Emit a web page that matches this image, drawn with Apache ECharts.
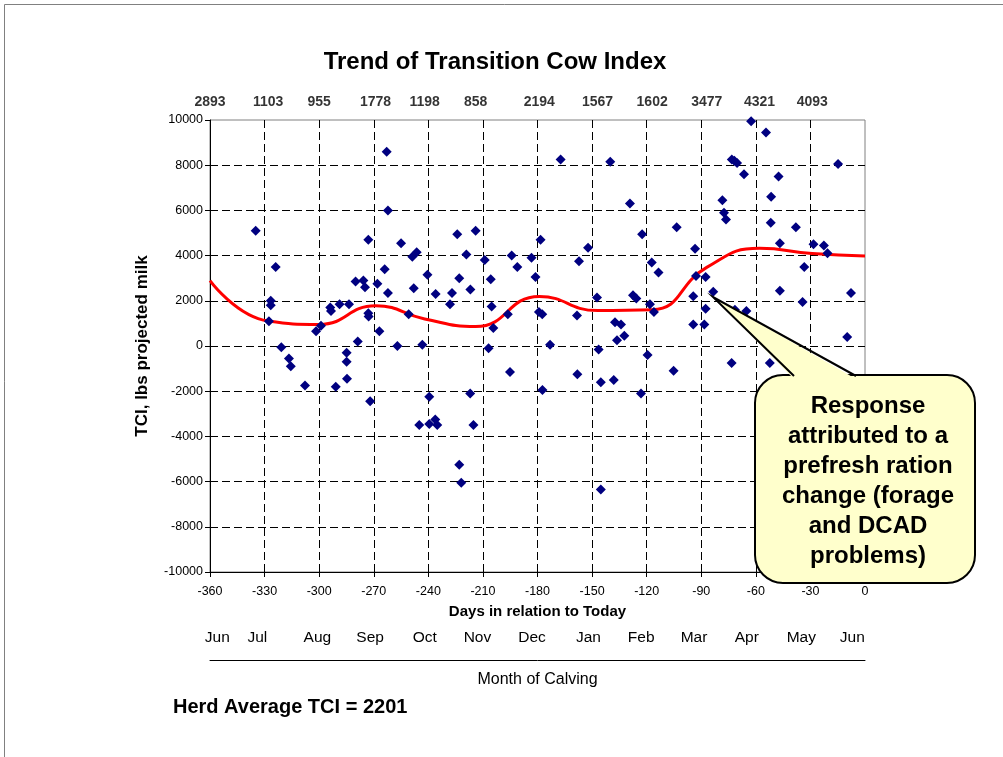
<!DOCTYPE html>
<html><head><meta charset="utf-8">
<script src="https://cdn.jsdelivr.net/npm/echarts@6/dist/echarts.min.js"></script>
<style>html,body{margin:0;padding:0;background:#fff}#c{width:1003px;height:757px}</style>
</head><body><div id="c"></div>
<script>
// Individual cows: days in relation to today, TCI (lbs projected milk)
const pointDays = [-334.9,-327.6,-326.6,-326.6,-323.9,-320.8,-316.6,-315.6,-307.8,-301.7,-299,-293.9,-293.5,-290.9,-288.8,-284.9,-284.9,-284.7,-283.6,-280,-278.8,-275.7,-274.8,-273,-273,-272.8,-272,-268,-266.9,-264,-262.9,-262.2,-262.2,-257,-255,-250.8,-248.8,-248,-246.4,-245,-243.3,-240.5,-239.5,-239.5,-236.2,-236,-235.1,-228.1,-227,-224.1,-223,-223,-221.9,-219.1,-217,-216.9,-215.2,-214,-209,-206.9,-205.7,-205.2,-204.3,-196.3,-195.1,-194.2,-191.1,-183.3,-181.1,-179.2,-178.3,-177.4,-177.3,-173.1,-167.3,-158.3,-158.1,-157.2,-152.2,-147.3,-146.4,-145.2,-145.2,-140,-138.1,-137.4,-136.3,-134.1,-132.3,-129.2,-127.5,-125.7,-123.1,-122.5,-119.5,-118.2,-117.2,-116,-113.5,-105.2,-103.5,-94.4,-94.4,-93.4,-92.9,-88.3,-87.6,-87.6,-83.4,-78.4,-77.5,-76.4,-73.3,-73.2,-71.8,-71.5,-70.3,-66.5,-65.2,-62.6,-54.4,-52.3,-51.8,-51.6,-47.5,-46.8,-46.8,-38,-34.3,-33.4,-28.3,-22.6,-20.6,-14.8,-9.8,-7.7];
const pointValues = [5100,1100,2000,1800,3500,-50,-550,-900,-1750,650,900,1700,1550,-1800,1850,-300,-700,-1450,1850,2850,200,2900,2600,4700,1450,1300,-2450,2750,650,3400,8600,6000,2350,0,4550,1400,3950,2550,4150,-3500,50,3150,-2250,-3450,-3250,2300,-3500,1850,2350,4950,3000,-5250,-6050,4050,-2100,2500,-3500,5100,3800,-100,2950,1750,800,1400,-1150,4000,3500,3900,3050,1500,4700,1400,-1950,50,8250,1350,-1250,3750,4350,2150,-150,-1600,-6350,8150,-1500,1050,250,950,450,6300,2250,2100,-2100,4950,-400,1850,3700,1500,3250,-1100,5250,2200,950,4300,3100,950,3050,1650,2400,6450,5900,5600,-750,8250,8200,1600,8100,7600,1550,9950,9450,-750,5450,6600,7500,4550,2450,5250,1950,3500,4500,4450,4100,8050,400,2350];
// Monthly averages (trend line) and their positions
const monthDays = [-360,-328,-300,-269,-242,-214,-179,-147,-117,-87,-58,-29];
const monthAvg = [2893,1103,955,1778,1198,858,2194,1567,1602,3477,4321,4093];
const trendEndDay = 0;
const trendEndValue = 3980;
// Month of calving labels
const monthLabelDays = [-356,-334,-301,-272,-242,-213,-183,-152,-123,-94,-65,-35,-7];
const monthNames = ['Jun','Jul','Aug','Sep','Oct','Nov','Dec','Jan','Feb','Mar','Apr','May','Jun'];
const herdAverage = 2201;
const calloutLines = ['Response','attributed to a','prefresh ration','change (forage','and DCAD','problems)'];

const FONT = '"Liberation Sans", Arial, sans-serif';
const chart = echarts.init(document.getElementById('c'), null, {renderer: 'canvas'});

const trendData = monthDays.map((d, i) => [d, monthAvg[i]]).concat([[trendEndDay, trendEndValue]]);
const gridDash = {color: '#000', type: [8, 4], width: 1};

chart.setOption({
  animation: false,
  backgroundColor: '#fff',
  textStyle: {fontFamily: FONT},
  title: {
    text: 'Trend of Transition Cow Index',
    left: 490, top: 45, textAlign: 'center',
    textStyle: {fontSize: 24, fontWeight: 'bold', color: '#000', fontFamily: FONT}
  },
  grid: {left: 210, right: 138, top: 120, bottom: 185, show: true, borderColor: '#808080', borderWidth: 1, containLabel: false},
  xAxis: [{
    type: 'value', min: -360, max: 0, interval: 30, position: 'bottom',
    name: 'Days in relation to Today', nameLocation: 'middle', nameGap: 32,
    nameTextStyle: {fontSize: 15, fontWeight: 'bold', color: '#000', fontFamily: FONT},
    axisLine: {show: true, onZero: false, lineStyle: {color: '#000', width: 1}},
    axisTick: {show: true, length: 5, lineStyle: {color: '#000'}},
    axisLabel: {fontSize: 12.5, color: '#000', margin: 13, fontFamily: FONT, formatter: v => String(v)},
    splitLine: {show: true, showMinLine: false, showMaxLine: false, lineStyle: gridDash}
  }, {
    type: 'value', min: -360, max: 0, position: 'bottom', offset: 88,
    name: 'Month of Calving', nameLocation: 'middle', nameGap: 12,
    nameTextStyle: {fontSize: 16, color: '#000', fontFamily: FONT},
    axisLine: {show: true, onZero: false, lineStyle: {color: '#000', width: 1}},
    axisTick: {show: false},
    splitLine: {show: false},
    axisLabel: {
      inside: true, margin: 14, fontSize: 15.5, color: '#000', fontFamily: FONT,
      customValues: monthLabelDays,
      formatter: v => { const i = monthLabelDays.indexOf(v); return i >= 0 ? monthNames[i] : ''; }
    }
  }],
  yAxis: {
    type: 'value', min: -10000, max: 10000, interval: 2000,
    name: 'TCI, lbs projected milk', nameLocation: 'middle', nameGap: 59,
    nameTextStyle: {fontSize: 17, fontWeight: 'bold', color: '#000', fontFamily: FONT},
    axisLine: {show: true, onZero: false, lineStyle: {color: '#000', width: 1}},
    axisTick: {show: true, length: 5, lineStyle: {color: '#000'}},
    axisLabel: {fontSize: 12.5, color: '#000', margin: 7, fontFamily: FONT, formatter: v => String(v)},
    splitLine: {show: true, showMinLine: false, showMaxLine: false, lineStyle: gridDash}
  },
  series: [{
    name: 'Trend', type: 'line', data: trendData, smooth: 0.5,
    showSymbol: false, symbol: 'none', z: 2,
    lineStyle: {color: '#ff0000', width: 3}
  }, {
    name: 'TCI', type: 'scatter', z: 3,
    data: pointDays.map((d, i) => [d, pointValues[i]]),
    symbol: 'diamond', symbolSize: 10,
    itemStyle: {color: '#000080', opacity: 1}
  }, {
    name: 'Monthly average', type: 'scatter', z: 3, silent: true,
    data: monthDays.map(d => [d, 10000]),
    symbolSize: 1, itemStyle: {color: 'rgba(0,0,0,0)'},
    label: {
      show: true, position: 'top', distance: 10,
      formatter: p => String(monthAvg[p.dataIndex]),
      fontSize: 14, fontWeight: 'bold', color: '#000', fontFamily: FONT
    }
  }],
  graphic: [
    {type: 'rect', silent: true, z: 0, shape: {x: 4.5, y: 4.5, width: 1200, height: 1000},
     style: {fill: 'none', stroke: '#808080', lineWidth: 1}},
    {type: 'text', silent: true, left: 173, top: 697,
     style: {text: 'Herd Average TCI = ' + herdAverage, font: 'bold 20px ' + FONT, fill: '#000'}},
    {type: 'group', silent: true, z: 100, children: [
      {type: 'rect', z: 100, shape: {x: 755, y: 375, width: 220, height: 208, r: 28},
       style: {fill: '#ffffcc', stroke: '#000', lineWidth: 2}},
      {type: 'polygon', z: 101, shape: {points: [[713, 297], [794, 379], [856, 379]]},
       style: {fill: '#ffffcc', stroke: null}},
      {type: 'polyline', z: 102, shape: {points: [[794, 376], [713, 297], [856, 376]]},
       style: {fill: null, stroke: '#000', lineWidth: 2}},
      {type: 'text', z: 103, style: {
        text: calloutLines.join('\n'), x: 868, y: 481, align: 'center', verticalAlign: 'middle',
        font: 'bold 24px ' + FONT, lineHeight: 30, fill: '#000'}}
    ]}
  ]
});
</script>
</body></html>
